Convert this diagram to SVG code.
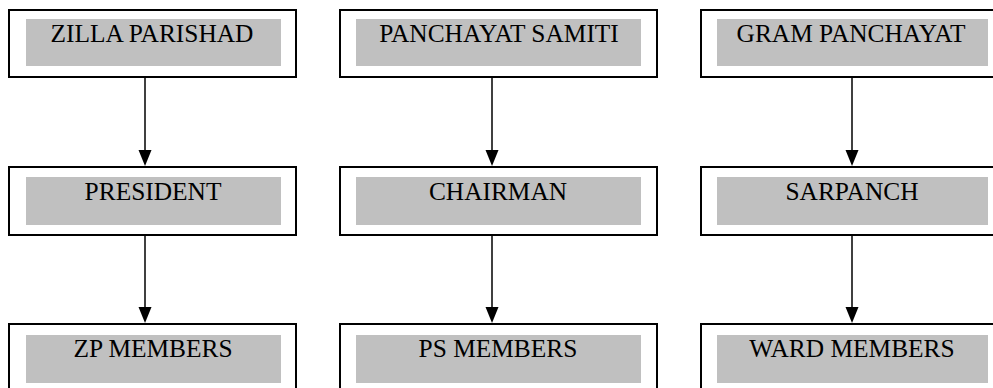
<svg xmlns="http://www.w3.org/2000/svg" width="993" height="388" viewBox="0 0 993 388">
<defs>
<style>
.box{fill:#fff;stroke:#000;stroke-width:2}
.fill{fill:#c0c0c0;stroke:none}
.lbl{font-family:"Liberation Serif","Times New Roman",serif;font-size:25.4px;fill:#000;text-anchor:middle}
.conn{stroke:#000;stroke-width:1.5;fill:none}
.head{fill:#000}
</style>
</defs>
<rect width="993" height="388" fill="#fff"/>
<g id="connectors">
<line class="conn" x1="145" y1="77" x2="145" y2="152"/>
<polygon class="head" points="138.5,150 151.5,150 145,166"/>
<line class="conn" x1="145" y1="235" x2="145" y2="309"/>
<polygon class="head" points="138.5,307 151.5,307 145,323"/>
<line class="conn" x1="492" y1="77" x2="492" y2="152"/>
<polygon class="head" points="485.5,150 498.5,150 492,166"/>
<line class="conn" x1="492" y1="235" x2="492" y2="309"/>
<polygon class="head" points="485.5,307 498.5,307 492,323"/>
<line class="conn" x1="852" y1="77" x2="852" y2="152"/>
<polygon class="head" points="845.5,150 858.5,150 852,166"/>
<line class="conn" x1="852" y1="235" x2="852" y2="309"/>
<polygon class="head" points="845.5,307 858.5,307 852,323"/>
</g>
<g id="zilla-parishad">
<rect class="box" x="9" y="10" width="287" height="67"/>
<rect class="fill" x="26" y="19" width="255" height="47"/>
<text class="lbl" x="152" y="42">ZILLA PARISHAD</text>
</g>
<g id="panchayat-samiti">
<rect class="box" x="340" y="10" width="317" height="67"/>
<rect class="fill" x="356" y="19" width="285" height="47"/>
<text class="lbl" x="499" y="42">PANCHAYAT SAMITI</text>
</g>
<g id="gram-panchayat">
<rect class="box" x="701" y="10" width="300" height="67"/>
<rect class="fill" x="717" y="19" width="271" height="47"/>
<text class="lbl" x="851" y="42">GRAM PANCHAYAT</text>
</g>
<g id="president">
<rect class="box" x="9" y="167" width="287" height="68"/>
<rect class="fill" x="26" y="177" width="255" height="48"/>
<text class="lbl" x="153" y="200">PRESIDENT</text>
</g>
<g id="chairman">
<rect class="box" x="340" y="167" width="317" height="68"/>
<rect class="fill" x="356" y="177" width="285" height="48"/>
<text class="lbl" x="498" y="200">CHAIRMAN</text>
</g>
<g id="sarpanch">
<rect class="box" x="701" y="167" width="300" height="68"/>
<rect class="fill" x="717" y="177" width="271" height="48"/>
<text class="lbl" x="852" y="200">SARPANCH</text>
</g>
<g id="zp-members">
<rect class="box" x="9" y="324" width="287" height="70"/>
<rect class="fill" x="26" y="335" width="255" height="48"/>
<text class="lbl" x="153" y="357">ZP MEMBERS</text>
</g>
<g id="ps-members">
<rect class="box" x="340" y="324" width="317" height="70"/>
<rect class="fill" x="356" y="335" width="285" height="48"/>
<text class="lbl" x="498" y="357">PS MEMBERS</text>
</g>
<g id="ward-members">
<rect class="box" x="701" y="324" width="300" height="70"/>
<rect class="fill" x="717" y="335" width="271" height="48"/>
<text class="lbl" x="852" y="357">WARD MEMBERS</text>
</g>
</svg>
